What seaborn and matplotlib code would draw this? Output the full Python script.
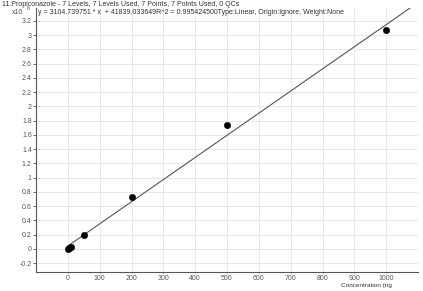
import matplotlib
matplotlib.use("Agg")
import matplotlib.pyplot as plt
import seaborn as sns
import numpy as np
import pandas as pd
from matplotlib.ticker import FuncFormatter, MultipleLocator

# Data (response in units of 10^6)
conc = [2, 5, 10, 50, 200, 500, 1000]
resp = [0.005, 0.015, 0.03, 0.197, 0.73, 1.74, 3.07]
slope = 3104.739751
intercept = 41839.033649
line_x = [0, 1100]

title = "11.Propiconazole - 7 Levels, 7 Levels Used, 7 Points, 7 Points Used, 0 QCs"
equation = ("y = 3104.739751 * x  + 41839.033649R^2 = 0.995424500"
            "Type:Linear, Origin:Ignore, Weight:None")
xlabel = "Concentration (ng"

sns.set_theme(style="white")
plt.rcParams['font.family'] = ['Liberation Sans', 'DejaVu Sans']

fig = plt.figure(figsize=(4.23, 2.91), dpi=100)
ax = fig.add_axes([36/423, 1 - 272/291, (418 - 36)/423, (272 - 8)/291])

df = pd.DataFrame({"x": conc, "y": resp})
line_df = pd.DataFrame({"x": line_x,
                        "y": [(slope * v + intercept) / 1e6 for v in line_x]})

sns.lineplot(data=line_df, x="x", y="y", ax=ax, color="#555555", lw=0.8)
sns.scatterplot(data=df, x="x", y="y", ax=ax, color="black", s=22,
                edgecolor="black", linewidth=0.3, zorder=5)

ax.set_xlim(-100, 1100)
ax.set_ylim(-0.323, 3.38)
ax.yaxis.set_major_locator(MultipleLocator(0.2))
ax.set_xticks(np.arange(0, 1001, 100))
ax.yaxis.set_major_formatter(FuncFormatter(lambda v, p: f"{v:g}" if abs(v) > 1e-9 else "0"))

ax.grid(True, color="#e4e4e4", lw=0.6)
ax.set_axisbelow(True)
for s in ["top", "right"]:
    ax.spines[s].set_visible(False)
for s in ["left", "bottom"]:
    ax.spines[s].set_color("#555555")
    ax.spines[s].set_linewidth(0.8)

ax.tick_params(axis="both", labelsize=5, colors="#555555", width=0.6,
               direction="out", bottom=True, left=True)
ax.tick_params(axis="x", length=1, pad=0.8)
ax.tick_params(axis="y", length=2, pad=1)
ax.set_xlabel("")
ax.set_ylabel("")

fig.text(2/423, 1 - 4/291, title, fontsize=5, color="#333333", va="center", ha="left")
fig.text(38/423, 1 - 12/291, equation, fontsize=5, color="#333333", va="center", ha="left")
fig.text(12/423, 1 - 13/291, "x10", fontsize=5, color="#555555", va="center", ha="left")
fig.text(27/423, 1 - 9/291, "6", fontsize=4, color="#555555", va="center", ha="left")
fig.text(341/423, 1 - 285.5/291, xlabel, fontsize=4.6, color="#333333", va="center", ha="left")

fig.savefig("out.png", dpi=100)
